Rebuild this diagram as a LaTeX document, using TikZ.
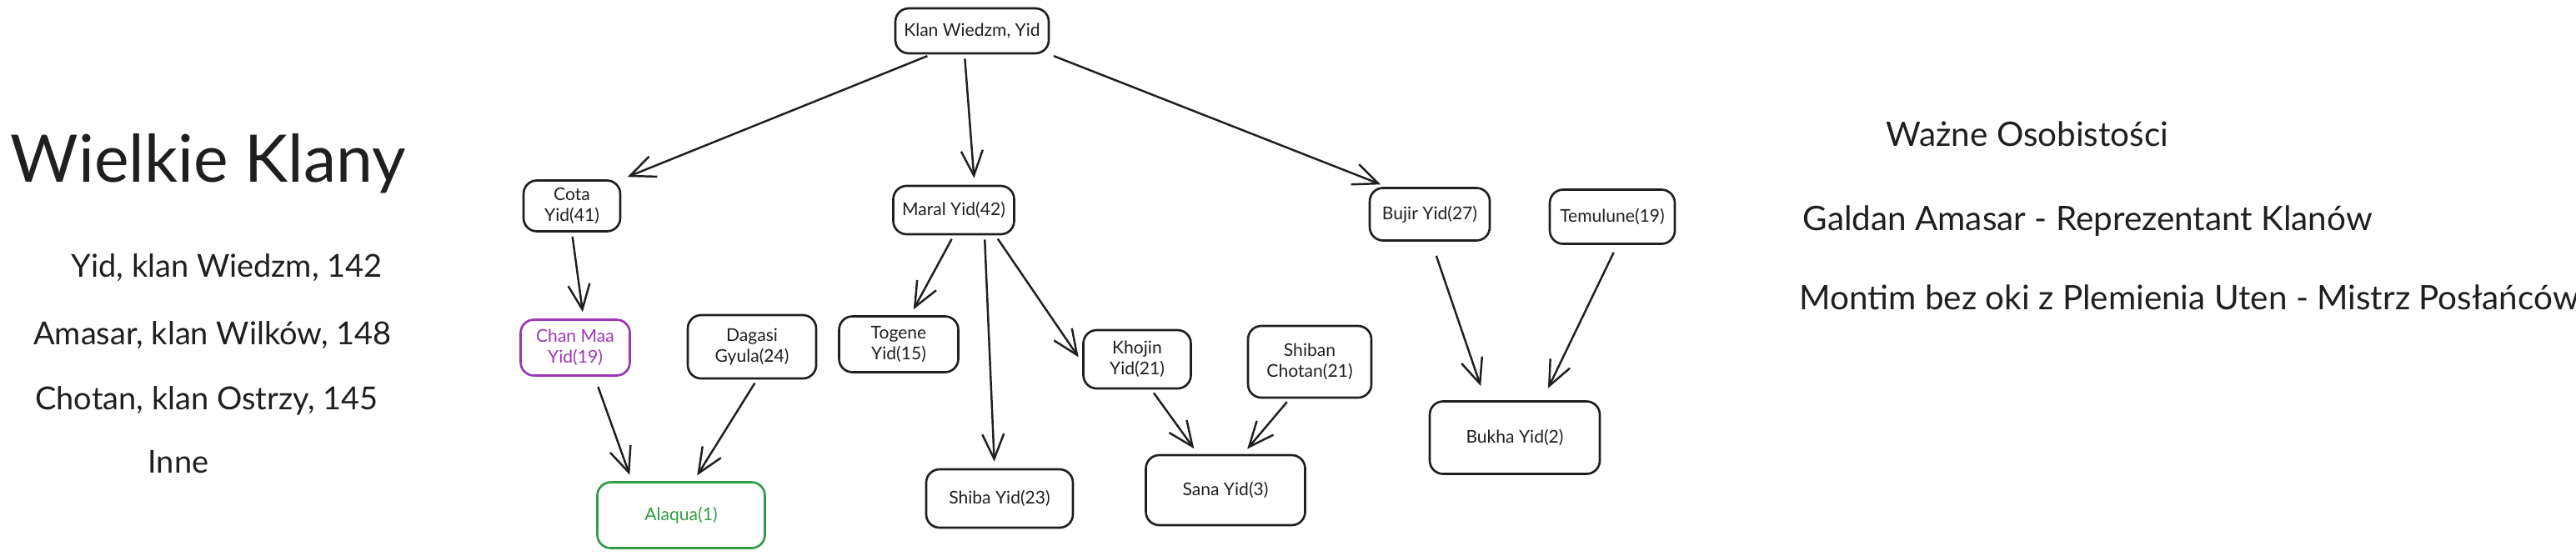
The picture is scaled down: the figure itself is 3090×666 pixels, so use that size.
\documentclass[tikz,border=0pt]{standalone}
\usepackage{fontspec}
\setmainfont{Lato}
\usetikzlibrary{arrows.meta}
\definecolor{clanviolet}{HTML}{9C36B5}
\definecolor{clangreen}{HTML}{2F9E44}
\colorlet{ink}{black!88}

\begin{document}
\begin{tikzpicture}[x=0.1mm, y=-0.1mm,
  box/.style={draw=ink, line width=0.75pt, rounded corners=1.6mm, align=center,
    font=\fontsize{6}{7.2}\selectfont, text=ink, inner sep=0pt},
  link/.style={draw=ink, line width=0.7pt, -{Straight Barb[length=3mm,width=2.6mm]},
    shorten >=0.8mm, shorten <=0.5mm},
  listtext/.style={font=\fontsize{10.8}{12}\selectfont, text=ink, inner sep=0pt, anchor=base},
  notetext/.style={font=\fontsize{11.5}{13}\selectfont, text=ink, inner sep=0pt, anchor=base west}]
\useasboundingbox (0,0) rectangle (3090,666);

\node[font=\fontsize{22.4}{26}\selectfont, text=ink, inner sep=0pt, anchor=base] (title) at (250,218) {Wielkie Klany};
\node[listtext] (yid) at (272,332) {Yid, klan Wiedzm, 142};
\node[listtext] (amasar) at (255,413) {Amasar, klan Wilków, 148};
\node[listtext] (chotan) at (248,491) {Chotan, klan Ostrzy, 145};
\node[listtext] (inne) at (214,567) {Inne};

\node[box, minimum width=18.4mm, minimum height=5.4mm] (klan) at (1166,37) {Klan Wiedzm, Yid};
\node[box, minimum width=11.6mm, minimum height=6.1mm] (cota) at (686,247) {Cota\\Yid(41)};
\node[box, minimum width=14.5mm, minimum height=5.8mm] (maral) at (1144,252) {Maral Yid(42)};
\node[box, minimum width=14.4mm, minimum height=6.3mm] (bujir) at (1715,257) {Bujir Yid(27)};
\node[box, minimum width=15mm, minimum height=6.5mm] (temulune) at (1934,260) {Temulune(19)};
\node[box, draw=clanviolet, text=clanviolet, minimum width=13.1mm, minimum height=6.7mm] (chan) at (690,417) {Chan Maa\\Yid(19)};
\node[box, minimum width=15.4mm, minimum height=7.6mm] (dagasi) at (902,416) {Dagasi\\Gyula(24)};
\node[box, draw=clangreen, text=clangreen, minimum width=20.1mm, minimum height=7.9mm] (alaqua) at (817,618) {Alaqua(1)};
\node[box, minimum width=14.3mm, minimum height=6.7mm] (togene) at (1078,413) {Togene\\Yid(15)};
\node[box, minimum width=17.6mm, minimum height=7mm] (shiba) at (1199,598) {Shiba Yid(23)};
\node[box, minimum width=12.9mm, minimum height=7mm] (khojin) at (1364,431) {Khojin\\Yid(21)};
\node[box, minimum width=14.8mm, minimum height=8.6mm] (shiban) at (1571,434) {Shiban\\Chotan(21)};
\node[box, minimum width=19.1mm, minimum height=8.4mm] (sana) at (1470,588) {Sana Yid(3)};
\node[box, minimum width=20.4mm, minimum height=8.7mm] (bukha) at (1817,525) {Bukha Yid(2)};

\draw[link] ([xshift=-4.9mm]klan.south) -- (cota.north east);
\draw[link] ([xshift=-0.9mm]klan.south) -- ([xshift=2.5mm]maral.north);
\draw[link] (klan.south east) -- ([xshift=2.2mm]bujir.north west);
\draw[link] (cota.south) -- ([xshift=1mm]chan.north);
\draw[link, shorten <=1.3mm] ([xshift=2.3mm]chan.south) -- ([xshift=-5.9mm]alaqua.north);
\draw[link] ([xshift=0.6mm]dagasi.south) -- ([xshift=1.5mm]alaqua.north);
\draw[link] (maral.south) -- ([xshift=1.4mm]togene.north);
\draw[link] ([xshift=3.7mm]maral.south) -- ([xshift=-0.6mm]shiba.north);
\draw[link] ([xshift=5mm]maral.south) -- ([yshift=-0.4mm]khojin.west);
\draw[link] ([xshift=1.7mm]khojin.south) -- ([xshift=-3.3mm]sana.north);
\draw[link] ([xshift=-2.4mm]shiban.south) -- ([xshift=2.1mm]sana.north);
\draw[link, shorten <=1.8mm, shorten >=1.8mm] ([xshift=0.2mm]bujir.south) -- ([xshift=-3.5mm]bukha.north);
\draw[link, shorten <=1mm, shorten >=1.6mm] ([xshift=0.6mm]temulune.south) -- ([xshift=3.3mm]bukha.north);

\node[font=\fontsize{11.5}{13}\selectfont, text=ink, inner sep=0pt, anchor=base] (wazne) at (2432,175) {Ważne Osobistości};
\node[notetext] (galdan) at (2162,276) {Galdan Amasar - Reprezentant Klanów};
\node[notetext] (montim) at (2158,371) {Montim bez oki z Plemienia Uten - Mistrz Posłańców};
\end{tikzpicture}
\end{document}
